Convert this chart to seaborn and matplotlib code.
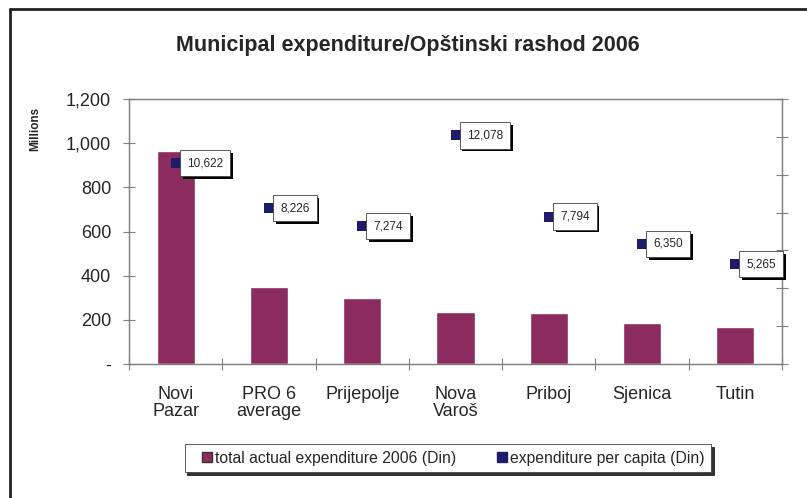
import matplotlib
matplotlib.use("Agg")
import matplotlib.pyplot as plt
import matplotlib.patheffects as pe
from matplotlib.lines import Line2D
from matplotlib.ticker import FuncFormatter, FixedLocator
import seaborn as sns
import pandas as pd

# data
municipalities = ["Novi\nPazar", "PRO 6\naverage", "Prijepolje", "Nova\nVaroš",
                  "Priboj", "Sjenica", "Tutin"]
total_expenditure = [965, 349, 299, 235, 231, 186, 168]        # millions Din
per_capita = [10622, 8226, 7274, 12078, 7794, 6350, 5265]       # Din

bar_color = "#8C2B5E"
dot_color = "#1E1B6B"

df = pd.DataFrame({"municipality": municipalities,
                   "total": total_expenditure,
                   "per_capita": per_capita})

sns.set_theme(style="white")
plt.rcParams["font.family"] = ["Liberation Sans", "DejaVu Sans"]

fig = plt.figure(figsize=(8.07, 4.98), dpi=100)
ax = fig.add_axes([0.160, 0.269, 0.809, 0.532])

sns.barplot(data=df, x="municipality", y="total", color=bar_color,
            saturation=1, width=0.41, ax=ax)
ax.set_ylim(0, 1200)
ax.set_xlim(-0.5, len(municipalities) - 0.5)
ax.set_yticks(range(0, 1201, 200))
ax.yaxis.set_major_formatter(FuncFormatter(lambda v, p: "-" if v == 0 else f"{int(v):,}"))
ax.set_xlabel("")
ax.set_ylabel("")
ax.tick_params(axis="y", direction="inout", length=8, width=0.8, color="#808080",
               labelsize=13, pad=9, left=True)
ax.tick_params(axis="x", which="major", length=0, labelsize=13, pad=16)
for lbl in ax.get_xticklabels():
    lbl.set_linespacing(0.95)
ax.xaxis.set_minor_locator(FixedLocator([i - 0.5 for i in range(len(municipalities) + 1)]))
ax.tick_params(axis="x", which="minor", direction="inout", length=8, width=0.8,
               color="#808080", bottom=True)
for s in ax.spines.values():
    s.set_color("#808080")
    s.set_linewidth(0.9)

# per capita on the secondary axis
ax2 = ax.twinx()
sns.scatterplot(data=df, x="municipality", y="per_capita", marker="s", s=45,
                color=dot_color, edgecolor=dot_color, linewidth=0, ax=ax2, zorder=5)
ax2.set_ylim(0, 14000)
ax2.set_xlim(-0.5, len(municipalities) - 0.5)
ax2.set_yticks(range(0, 14001, 2000))
ax2.set_yticklabels([])
ax2.set_ylabel("")
ax2.tick_params(axis="y", direction="inout", length=8, width=0.8, color="#808080", right=True)
for s in ax2.spines.values():
    s.set_color("#808080")
    s.set_linewidth(0.9)

for i, v in enumerate(per_capita):
    t = ax2.annotate(f"{v:,}", (i, v), xytext=(8, 0), textcoords="offset points",
                     ha="left", va="center", fontsize=8.5, zorder=6,
                     bbox=dict(boxstyle="square,pad=0.6", fc="white", ec="#404040", lw=0.6))
    t.get_bbox_patch().set_path_effects([
        pe.SimplePatchShadow(offset=(2, -2), shadow_rgbFace="black", alpha=1),
        pe.Normal()])

ax.set_zorder(1)
ax2.set_zorder(2)
ax2.patch.set_visible(False)

fig.text(0.505, 0.908, "Municipal expenditure/Opštinski rashod 2006",
         ha="center", va="center", fontsize=15.5, fontweight="bold")
fig.text(0.044, 0.742, "Millions", rotation=90, ha="center", va="center",
         fontsize=8.5, fontweight="bold")

handles = [Line2D([], [], marker="s", linestyle="", markersize=6.5,
                  markerfacecolor=bar_color, markeredgecolor="#333333"),
           Line2D([], [], marker="s", linestyle="", markersize=6.5,
                  markerfacecolor=dot_color, markeredgecolor=dot_color)]
leg = fig.legend(handles, ["total actual expenditure 2006 (Din)",
                           "expenditure per capita (Din)"],
                 loc="center", bbox_to_anchor=(0.555, 0.080), ncol=2,
                 fontsize=11.3, frameon=True, fancybox=False, handletextpad=-0.45,
                 handlelength=2.0, columnspacing=1.9, borderpad=0.4,
                 shadow={"color": "black", "alpha": 0.8, "ox": 2, "oy": -2})
leg.get_frame().set_edgecolor("#404040")
leg.get_frame().set_linewidth(0.6)

# outer chart frame
fig.add_artist(Line2D([0.012, 0.012], [0.0, 0.982], color="#222222", lw=2,
                      transform=fig.transFigure))
fig.add_artist(Line2D([0.012, 1.0], [0.982, 0.982], color="#222222", lw=2,
                      transform=fig.transFigure))

fig.savefig("out.png", dpi=100)
